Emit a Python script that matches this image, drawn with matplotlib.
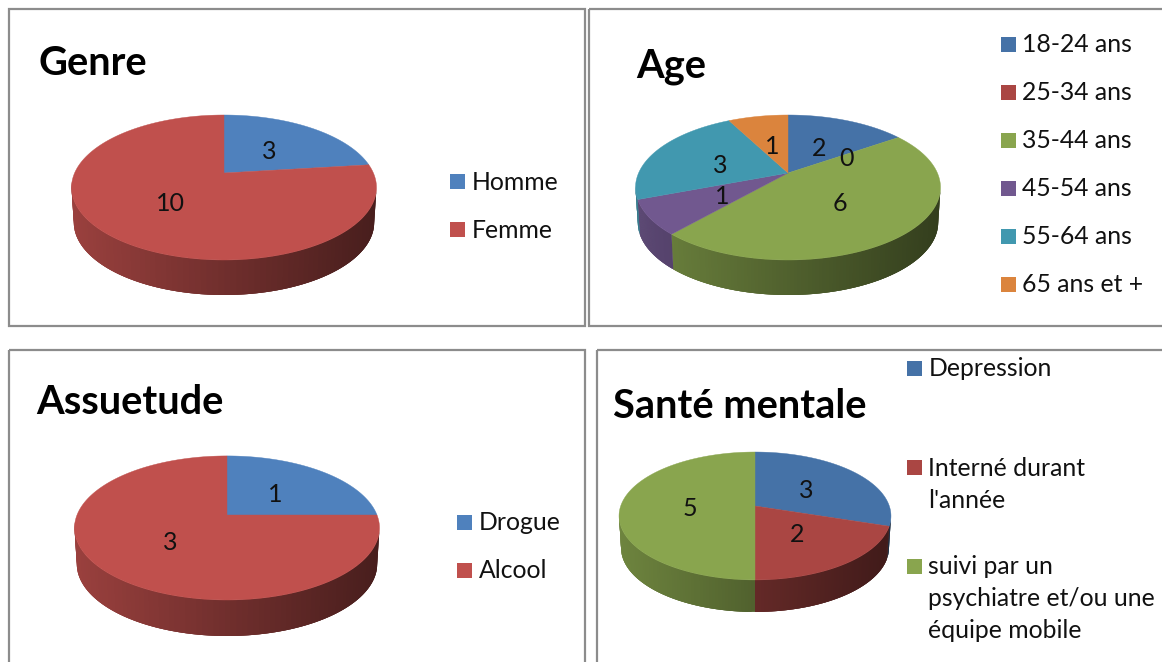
import numpy as np
import matplotlib
matplotlib.use("Agg")
import matplotlib.pyplot as plt
from matplotlib.patches import Rectangle

plt.rcParams['font.family'] = ['Lato', 'DejaVu Sans']

genre_labels = ["Homme", "Femme"]
genre_values = [3, 10]
age_labels = ["18-24 ans", "25-34 ans", "35-44 ans", "45-54 ans", "55-64 ans", "65 ans et +"]
age_values = [2, 0, 6, 1, 3, 1]
assuetude_labels = ["Drogue", "Alcool"]
assuetude_values = [1, 3]
sante_labels = ["Depression", "Interné durant\nl'année", "suivi par un\npsychiatre et/ou une\néquipe mobile"]
sante_values = [3, 2, 5]

genre_colors = ["#4f81bd", "#c0504d"]
age_colors = ["#4572a7", "#aa4643", "#89a54e", "#71588f", "#4198af", "#db843d"]
sante_colors = ["#4572a7", "#aa4643", "#89a54e"]

fig = plt.figure(figsize=(11.62, 6.62), dpi=100)
ax = fig.add_axes([0, 0, 1, 1])
ax.set_xlim(0, 1162)
ax.set_ylim(662, 0)
ax.axis("off")


def project(theta, cx, cy, sx, sy, k):
    # theta runs clockwise from the top of the pie, perspective tilts the disc
    x = np.sin(theta)
    y = np.cos(theta)
    w = 1 + k * y
    return cx + sx * x / w, cy - sy * y / w


def draw_pie(values, colors, cx, cy, sx, sy, k, depth):
    angles = np.cumsum([0] + list(values)) / sum(values) * 2 * np.pi
    left = cx - sx
    width = 2 * sx
    # side of the disc first
    for i in range(len(values)):
        if values[i] == 0:
            continue
        th = np.linspace(angles[i], angles[i + 1], 150)
        px, py = project(th, cx, cy, sx, sy, k)
        bx, by = project(th, cx, cy + depth, sx * 0.985, sy, k)
        rgb = np.array(matplotlib.colors.to_rgb(colors[i]))
        for j in range(len(th) - 1):
            # only the front of the rim can be seen
            if np.cos(th[j]) > -k:
                continue
            f = 0.8 - 0.42 * (px[j] - left) / width
            c = np.clip(rgb * f, 0, 1)
            # overlap the next strips a little so no seams show
            e = min(j + 3, len(th) - 1)
            ax.fill(np.r_[px[j:e + 1], bx[j:e + 1][::-1]], np.r_[py[j:e + 1], by[j:e + 1][::-1]],
                    color=c, lw=0, zorder=2)
    # top face
    for i in range(len(values)):
        if values[i] == 0:
            continue
        th = np.linspace(angles[i], angles[i + 1], 200)
        px, py = project(th, cx, cy, sx, sy, k)
        ax.fill(np.r_[cx, px], np.r_[cy, py], color=colors[i], lw=0.3, zorder=3)


def draw_legend(labels, colors, x, ys):
    for lab, c, y in zip(labels, colors, ys):
        ax.add_patch(Rectangle((x, y - 7.5), 15, 15, color=c, lw=0, zorder=4))
        ax.text(x + 21.5, y + 1, lab.split("\n")[0], fontsize=17.8, va="center", ha="left", color="#111111")
        for n, extra in enumerate(lab.split("\n")[1:]):
            ax.text(x + 21.5, y + 1 + 32 * (n + 1), extra, fontsize=17.8, va="center", ha="left", color="#111111")


def draw_values(values, xs, ys):
    for v, x, y in zip(values, xs, ys):
        ax.text(x, y + 1.5, str(v), fontsize=18, ha="center", va="center", color="#111111", zorder=5)


def draw_title(txt, x, y):
    ax.text(x, y + 2.5, txt, fontsize=28.7, fontweight="bold", ha="left", va="center", color="black")


# panel frames
for x0, y0, x1, y1 in [(9, 9, 585, 326), (589, 9, 1170, 326), (9, 350, 585, 670), (597, 350, 1170, 670)]:
    ax.add_patch(Rectangle((x0, y0), x1 - x0, y1 - y0, fill=False, ec="#8c8c8c", lw=1.6, zorder=1))

draw_title("Genre", 38, 61)
draw_pie(genre_values, genre_colors, 224, 173, 149.4, 69.6, 0.2, 35)
draw_values(genre_values, [269, 170], [150, 202])
draw_legend(genre_labels, genre_colors, 450, [181, 229])

draw_title("Age", 636, 64)
draw_pie(age_values, age_colors, 788, 173, 149.4, 69.6, 0.2, 35)
draw_values(age_values, [819, 846, 840, 722, 720, 772], [147, 157, 202, 195, 164, 145])
draw_legend(age_labels, age_colors, 1001, [44, 92, 140, 188, 236, 284])

draw_title("Assuetude", 36, 400)
draw_pie(assuetude_values, genre_colors, 227, 515, 150, 69.7, 0.18, 36)
draw_values(assuetude_values, [275, 170], [493, 541])
draw_legend(assuetude_labels, genre_colors, 457, [522, 570])

draw_title("Santé mentale", 613, 404)
draw_pie(sante_values, sante_colors, 755, 506, 134.3, 62.4, 0.156, 32)
draw_values(sante_values, [806, 797, 690], [489, 533, 507])
draw_legend(sante_labels, sante_colors, 907, [368, 467, 566])

fig.savefig("out.png", dpi=100)
